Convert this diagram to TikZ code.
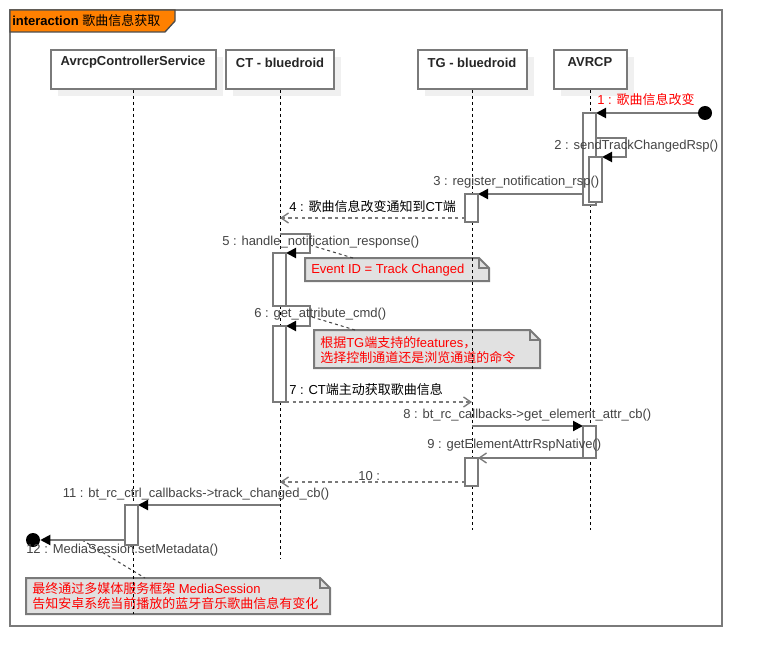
\documentclass[tikz,border=0pt]{standalone}
\usepackage{fontspec}
\setmainfont{Liberation Sans}
\newfontfamily\cjk{Noto Sans CJK SC}
\usetikzlibrary{arrows.meta}
\newcommand{\zh}[1]{{\cjk #1}}
\definecolor{lg}{HTML}{7A7A7A}
\definecolor{shd}{HTML}{F0F0F0}
\definecolor{notefill}{HTML}{E1E1E1}
\definecolor{tab}{HTML}{FF8000}
\definecolor{lbltxt}{HTML}{444444}
\definecolor{redtxt}{HTML}{FF0000}
\begin{document}
\begin{tikzpicture}[x=0.75pt,y=-0.75pt,
  frm/.style={draw=lg,line width=1.5pt},
  part/.style={draw=lg,line width=1.5pt,fill=white,inner sep=0pt,minimum height=29.25pt},
  shadowbox/.style={fill=shd},
  ptext/.style={inner sep=0pt,font=\fontsize{9.75}{11}\selectfont\bfseries,text=black!85},
  life/.style={draw=black,line width=0.75pt,dash pattern=on 2.25pt off 2.25pt},
  act/.style={draw=lg,fill=white,line width=1.5pt},
  msg/.style={draw=lg,line width=1.5pt,-{Triangle[color=black,length=7.5pt,width=7.5pt]}},
  retmsg/.style={draw=lg,line width=1.5pt,dash pattern=on 2.5pt off 2.5pt,-{Straight Barb[color=lg,length=5.5pt,width=7.5pt,line width=1pt]}},
  openmsg/.style={draw=lg,line width=1.5pt,-{Straight Barb[color=lg,length=5.5pt,width=7.5pt,line width=1pt]}},
  lbl/.style={anchor=west,inner sep=0pt,font=\fontsize{9.75}{11}\selectfont,text=lbltxt},
  notebox/.style={draw=lg,fill=notefill,line width=1.5pt},
  notelink/.style={draw=black!75,line width=0.75pt,dash pattern=on 2.25pt off 2.25pt},
  ntext/.style={anchor=west,inner sep=0pt,font=\fontsize{9.75}{11}\selectfont,text=redtxt,align=left},
  endpt/.style={circle,fill=black,inner sep=0pt,minimum size=10.5pt}
]
\useasboundingbox (0,0) rectangle (762,666);
\fill[white] (0,0) rectangle (762,666);

% frame
\draw[frm] (10,10) rectangle (722,626);
\draw[draw=black!70,line width=1pt,fill=tab] (10,10) -- (175,10) -- (175,21) -- (165,32) -- (10,32) -- cycle;
\node[anchor=west,inner sep=0pt,font=\fontsize{9.75}{11}\selectfont] (title) at (12,21) {\textbf{interaction} \zh{歌曲信息获取}};

% participant shadows
\fill[shadowbox] (57.5,57) rectangle (222.5,96);
\fill[shadowbox] (233,57) rectangle (341,96);
\fill[shadowbox] (424.5,57) rectangle (533.5,96);
\fill[shadowbox] (560.5,57) rectangle (633.5,96);

% participants
\node[part,minimum width=123.75pt] (acs) at (133,69.5) {};
\node[part,minimum width=81pt] (ct) at (280,69.5) {};
\node[part,minimum width=81.75pt] (tg) at (472,69.5) {};
\node[part,minimum width=54.75pt] (avrcp) at (590,69.5) {};
\node[ptext] (acst) at (133,62.5) {AvrcpControllerService};
\node[ptext] (ctt) at (280,62.5) {CT - bluedroid};
\node[ptext] (tgt) at (472,62.5) {TG - bluedroid};
\node[ptext] (avrcpt) at (590,62.5) {AVRCP};

% notes
\draw[notebox] (305,258) -- (479,258) -- (489,268) -- (489,281) -- (305,281) -- cycle;
\draw[draw=lg,line width=1pt] (479,258) -- (479,268) -- (489,268);
\draw[notebox] (314,330) -- (530,330) -- (540,340) -- (540,368) -- (314,368) -- cycle;
\draw[draw=lg,line width=1pt] (530,330) -- (530,340) -- (540,340);
\draw[notebox] (26,578) -- (320,578) -- (330,588) -- (330,614) -- (26,614) -- cycle;
\draw[draw=lg,line width=1pt] (320,578) -- (320,588) -- (330,588);
\coordinate (n1top) at (353,258);
\coordinate (n2top) at (355,330);
\coordinate (n3top) at (145,578);
\coordinate (m5c) at (310,245);
\coordinate (m6c) at (312,317);
\coordinate (m12c) at (82,540);
\draw[notelink] (m5c) -- (n1top);
\draw[notelink] (m6c) -- (n2top);
\draw[notelink] (m12c) -- (n3top);
\node[ntext] (n1) at (311,270) {Event ID = Track Changed};
\node[ntext] (n2a) at (320,342.5) {\zh{根据}TG\zh{端支持的}features\zh{，}};
\node[ntext] (n2b) at (320,357.5) {\zh{选择控制通道还是浏览通道的命令}};
\node[ntext] (n3a) at (32,589) {\zh{最终通过多媒体服务框架} MediaSession};
\node[ntext] (n3b) at (32,604) {\zh{告知安卓系统当前播放的蓝牙音乐歌曲信息有变化}};

% lifelines
\coordinate (acsend) at (133,614);
\coordinate (ctend) at (280,559);
\coordinate (tgend) at (472,530);
\coordinate (avend) at (590,530);
\draw[life] (acs.south) -- (acsend);
\draw[life] (ct.south) -- (ctend);
\draw[life] (tg.south) -- (tgend);
\draw[life] (avrcp.south) -- (avend);

% message endpoints
\node[endpt] (start) at (705,113) {};
\node[endpt] (stop) at (33,540) {};
\coordinate (m1e) at (596,113);
\coordinate (m2s) at (596,138);
\coordinate (m2e) at (602,157);
\coordinate (m3s) at (589,194);
\coordinate (m3e) at (478,194);
\coordinate (m4s) at (465,218);
\coordinate (m4e) at (280,218);
\coordinate (m5s) at (280,234);
\coordinate (m5e) at (286,253);
\coordinate (m6s) at (280,306);
\coordinate (m6e) at (286,326);
\coordinate (m7s) at (286,402);
\coordinate (m7e) at (472,402);
\coordinate (m8s) at (472,426);
\coordinate (m8e) at (583,426);
\coordinate (m9s) at (583,458);
\coordinate (m9e) at (478,458);
\coordinate (m10s) at (465,482);
\coordinate (m10e) at (280,482);
\coordinate (m11s) at (280,505);
\coordinate (m11e) at (138,505);
\coordinate (m12s) at (125,540);

% messages
\draw[msg] (start) -- (m1e);
\draw[msg] (m2s) -- (626,138) -- (626,157) -- (m2e);
\draw[msg] (m3s) -- (m3e);
\draw[retmsg] (m4s) -- (m4e);
\draw[msg] (m5s) -- (310,234) -- (310,253) -- (m5e);
\draw[msg] (m6s) -- (310,306) -- (310,326) -- (m6e);
\draw[retmsg] (m7s) -- (m7e);
\draw[msg] (m8s) -- (m8e);
\draw[openmsg] (m9s) -- (m9e);
\draw[retmsg] (m10s) -- (m10e);
\draw[msg] (m11s) -- (m11e);
\draw[msg] (m12s) -- (stop);

% activations
\draw[act] (583,113) rectangle (596,205);
\draw[act] (589,157) rectangle (602,202);
\draw[act] (465,194) rectangle (478,222);
\draw[act] (273,253) rectangle (286,306);
\draw[act] (273,326) rectangle (286,402);
\draw[act] (583,426) rectangle (596,458);
\draw[act] (465,458) rectangle (478,486);
\draw[act] (125,505) rectangle (138,545);

% labels
\node[lbl,text=redtxt] (l1) at (597,100) {1 : \zh{歌曲信息改变}};
\node[lbl] (l2) at (554,146.5) {2 : sendTrackChangedRsp()};
\node[lbl] (l3) at (433,182.5) {3 : register\_notification\_rsp()};
\node[lbl,text=black] (l4) at (289,206.5) {4 : \zh{歌曲信息改变通知到}CT\zh{端}};
\node[lbl] (l5) at (222,242.5) {5 : handle\_notification\_response()};
\node[lbl] (l6) at (254,314.5) {6 : get\_attribute\_cmd()};
\node[lbl,text=black] (l7) at (289,389.5) {7 : CT\zh{端主动获取歌曲信息}};
\node[lbl] (l8) at (403,415) {8 : bt\_rc\_callbacks->get\_element\_attr\_cb()};
\node[lbl] (l9) at (427,445.5) {9 : getElementAttrRspNative()};
\node[lbl] (l10) at (358,476.5) {10 :};
\node[lbl] (l11) at (62.5,494.5) {11 : bt\_rc\_ctrl\_callbacks->track\_changed\_cb()};
\node[lbl] (l12) at (26,550.5) {12 : MediaSession.setMetadata()};
\end{tikzpicture}
\end{document}
